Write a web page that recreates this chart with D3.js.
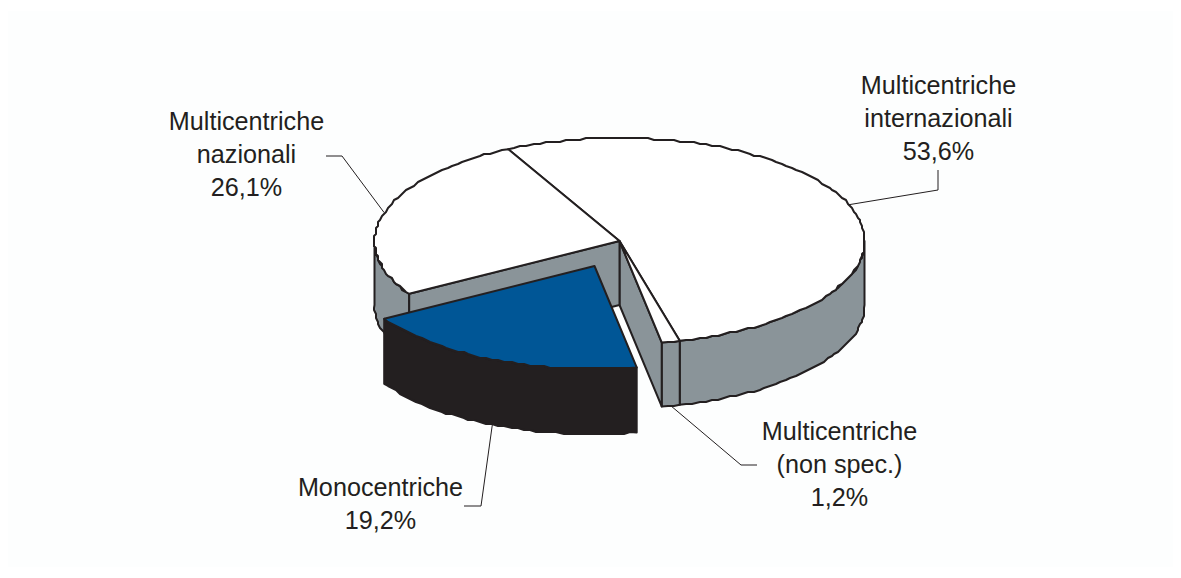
<!DOCTYPE html>
<html><head><meta charset="utf-8">
<script src="https://cdn.jsdelivr.net/npm/d3@7"></script>
<style>html,body{margin:0;padding:0;background:#fff}svg{display:block}</style>
</head><body><svg id="c" width="1181" height="578"></svg>
<script>
const categories = ["Multicentriche internazionali","Multicentriche (non spec.)","Monocentriche","Multicentriche nazionali"];
const values = [53.6,1.2,19.2,26.1];
const labelLines = [["Multicentriche","internazionali","53,6%"],["Multicentriche","(non spec.)","1,2%"],["Monocentriche","19,2%"],["Multicentriche","nazionali","26,1%"]];

const W=1181,H=578,cx=619.5,cy=241,rx=245,ry=103,depth=64,ink="#231f20",grey="#8a9499",blue="#005696";
const svg=d3.select("#c");
svg.append("rect").attr("width",W).attr("height",H).attr("fill","#fff");
svg.append("rect").attr("x",8).attr("y",11).attr("width",W-16).attr("height",H-22).attr("fill","#fdfefe");

const startDeg=-27;
const pie=d3.pie().sort(null).value(d=>d).startAngle(startDeg*Math.PI/180).endAngle((startDeg+360)*Math.PI/180);
const arcs=pie(values);
const explode=[[0,0],[0,0],[-25,25],[0,0]];
const P=(a,i,dz=0,r=1)=>[cx+explode[i][0]+r*rx*Math.sin(a), cy+explode[i][1]+r*ry*-Math.cos(a)+dz];
const line=d3.line();
// the reference outline is a slightly stepped polyline: snap rim samples to a small lattice
const snap=2;
const rim=(a0,a1,i,dz=0)=>{
  const n=Math.max(2,Math.ceil(Math.abs(a1-a0)/(1.6*Math.PI/180)));
  return d3.range(n+1).map(k=>{
    const p=P(a0+(a1-a0)*k/n,i,dz);
    return (k===0||k===n)?p:[Math.round(p[0]/snap)*snap,Math.round(p[1]/snap)*snap];
  });
};
const draw=(pts,fill,sw=2)=>svg.append("path").attr("d",line(pts)+"Z").attr("fill",fill).attr("stroke",ink).attr("stroke-width",sw).attr("stroke-linejoin","round");
const outerWall=(a0,a1,i,fill)=>{
  const lo=Math.max(a0,Math.PI/2),hi=Math.min(a1,3*Math.PI/2);
  const lo2=Math.max(a0,Math.PI/2+2*Math.PI),hi2=Math.min(a1,3*Math.PI/2+2*Math.PI);
  [[lo,hi],[lo2,hi2]].forEach(([l,h])=>{ if(h>l) draw(rim(l,h,i).concat(rim(h,l,i,depth)),fill);});
};
const cutWall=(a,i,fill)=>draw([P(a,i,0,0),P(a,i),P(a,i,depth),P(a,i,depth,0)],fill);

[0,1,3].forEach(i=>outerWall(arcs[i].startAngle,arcs[i].endAngle,i,grey));
cutWall(arcs[1].endAngle,1,grey);
cutWall(arcs[3].startAngle,3,grey);
[0,1,3].forEach(i=>{
  const a=arcs[i];
  draw([P(0,i,0,0)].concat(rim(a.startAngle,a.endAngle,i)),"#fff");
});
const m=arcs[2];
draw(rim(m.startAngle,m.endAngle,2).concat(rim(m.endAngle,m.startAngle,2,depth+1)),ink);
draw([P(0,2,0,0)].concat(rim(m.startAngle,m.endAngle,2)),blue);

const elbows=[[[938,190],[938,170]],[[741,465],[757,465]],[[481,506],[464,506]],[[342,156],[326,156]]];
const rimDz=[0,depth,depth,0];
arcs.forEach((a,i)=>{
  const mid=(a.startAngle+a.endAngle)/2;
  svg.append("path").attr("d",line([P(mid,i,rimDz[i])].concat(elbows[i]))).attr("fill","none").attr("stroke",ink).attr("stroke-width",1);
});
const labelPos=[[938.5,94],[839.5,440],[380.5,496],[246.5,130]];
labelLines.forEach((ls,i)=>{
  const t=svg.append("text").attr("text-anchor","middle").attr("font-family","'Liberation Sans',Arial,sans-serif").attr("font-size",25.2).attr("fill",ink);
  ls.forEach((s,k)=>t.append("tspan").attr("x",labelPos[i][0]).attr("y",labelPos[i][1]+k*33).text(s));
});
</script></body></html>
